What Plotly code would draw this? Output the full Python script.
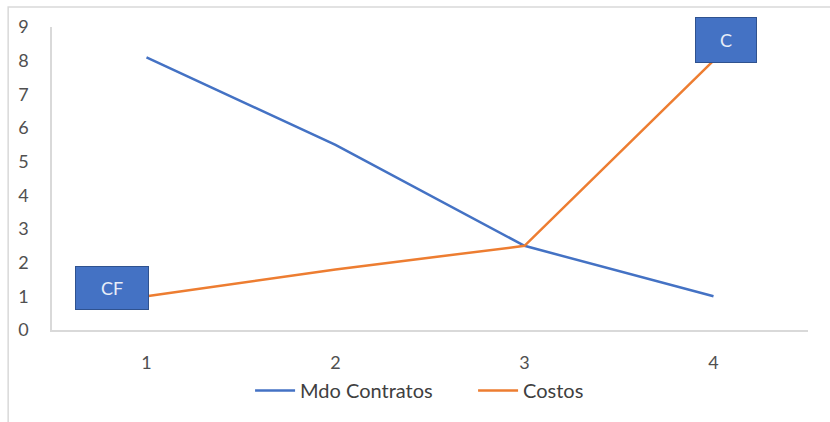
import plotly.graph_objects as go

categories = ["1", "2", "3", "4"]
mdo_contratos = [8.1, 5.5, 2.5, 1.0]
costos = [1.0, 1.8, 2.5, 8.0]
y_ticks = [0, 1, 2, 3, 4, 5, 6, 7, 8, 9]

BLUE = "#4472C4"
ORANGE = "#ED7D31"
FONT = "Lato"

fig = go.Figure()
fig.add_trace(go.Scatter(x=categories, y=mdo_contratos, mode="lines", name="Mdo Contratos",
                         line=dict(color=BLUE, width=2.5)))
fig.add_trace(go.Scatter(x=categories, y=costos, mode="lines", name="Costos",
                         line=dict(color=ORANGE, width=2.5)))

box = dict(showarrow=False, bgcolor="#4472C4", bordercolor="#2F528F", borderwidth=1,
           borderpad=0, font=dict(family=FONT, size=18, color="#E8EEF8"), xref="x", yref="y")
fig.add_annotation(x=0, y=costos[0], text="CF", width=72, height=42,
                   xanchor="right", yanchor="middle", xshift=2, yshift=8, **box)
fig.add_annotation(x=3, y=costos[3], text="C", width=60, height=44,
                   xanchor="center", yanchor="bottom", xshift=12, yshift=-2, **box)

# outer chart border
fig.add_shape(type="rect", xref="paper", yref="paper", x0=-0.058, x1=1.04, y0=-0.31, y1=1.066,
              line=dict(color="#D9D9D9", width=1.5), fillcolor="rgba(0,0,0,0)", layer="below")

fig.update_layout(
    width=830, height=422,
    margin=dict(l=52, r=22, t=27, b=90),
    paper_bgcolor="white", plot_bgcolor="white",
    font=dict(family=FONT, size=18, color="#505050"),
    showlegend=True,
    legend=dict(orientation="h", x=0.262, xanchor="left", y=-0.2, yanchor="middle",
                font=dict(family=FONT, size=20, color="#404040"), itemwidth=40,
                entrywidth=168, entrywidthmode="pixels",
                bgcolor="rgba(0,0,0,0)", tracegroupgap=0),
    xaxis=dict(type="category", range=[-0.5, 3.5], showgrid=False, showline=True,
               linecolor="#D9D9D9", linewidth=1.5,
               ticks="", ticklabelstandoff=16, zeroline=False, fixedrange=True),
    yaxis=dict(range=[0, 9], tickvals=y_ticks, showgrid=False, showline=True, linecolor="#D9D9D9",
               linewidth=1.5, ticks="", ticklabelstandoff=18, zeroline=False, fixedrange=True),
)

fig.write_html("out.html")
